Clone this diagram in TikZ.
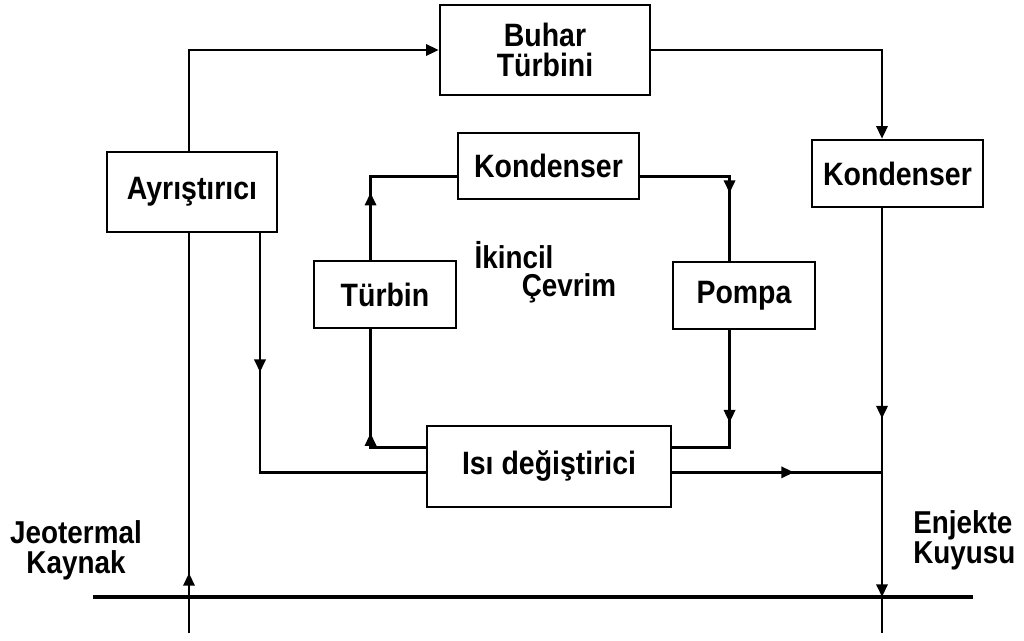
\documentclass[tikz,border=0pt]{standalone}
\usepackage{fontspec}
\setmainfont{Liberation Sans}[FakeStretch=0.88]
\usetikzlibrary{arrows.meta,calc,decorations.markings}

\begin{document}
\begin{tikzpicture}[x=0.025cm, y=-0.025cm,
  box/.style = {draw, line width=1.8pt, inner sep=0pt, align=center, font=\fontsize{23}{21.5}\selectfont\bfseries},
  lbl/.style = {inner sep=0pt, font=\fontsize{22.5}{21.5}\selectfont\bfseries},
  flow/.style = {draw, line width=1.8pt},
  ground/.style = {draw, line width=2.4pt},
  endtip/.style = {-{Triangle[width=8pt,length=9pt]}},
  midarrow/.style = {postaction={decorate, decoration={markings, mark=at position #1 with {\arrow{Triangle[width=8pt,length=9pt]}}}}}]
    \useasboundingbox (0,0) rectangle (1024,640);
    % boxes
    \node[box, minimum width=5.25cm, minimum height=2.25cm] (buhar) at (545,50) {Buhar\\Türbini};
    \node[box, minimum width=4.25cm, minimum height=2cm] (ayr) at (192,192) {Ayrıştırıcı};
    \node[box, minimum width=4.525cm, minimum height=1.65cm] (kondI) at (548.5,166) {Kondenser};
    \node[box, minimum width=4.275cm, minimum height=1.675cm] (kondR) at (897.5,173.5) {Kondenser};
    \node[box, minimum width=3.55cm, minimum height=1.675cm] (turbin) at (385,294.5) {Türbin};
    \node[box, minimum width=3.55cm, minimum height=1.675cm] (pompa) at (744,295.5) {Pompa};
    \node[box, minimum width=6.1cm, minimum height=2.025cm] (isi) at (549,466.5) {Isı değiştirici};
    % texts
    \node[lbl, align=center] (kaynak) at (76,550) {Jeotermal\\Kaynak};
    \node[lbl, align=left, anchor=west] (kuyu) at (913,540) {Enjekte\\Kuyusu};
    \node[lbl] (ikincil) at (514,255) {İkincil};
    \node[lbl] (cevrim) at (569,288) {Çevrim};
    % connection points
    \coordinate (src) at (189,633);
    \coordinate (inj) at (882,633);
    \coordinate (gl) at (93,597);
    \coordinate (gr) at (973,597);
    \coordinate (ayrR) at ($(ayr.south west)!0.894!(ayr.south east)$);
    \coordinate (hxin) at ($(isi.north west)!0.57!(isi.south west)$);
    \coordinate (hxout) at ($(isi.north east)!0.57!(isi.south east)$);
    \coordinate (wfin) at ($(isi.north east)!0.27!(isi.south east)$);
    \coordinate (wfout) at ($(isi.north west)!0.27!(isi.south west)$);
    \coordinate (tTop) at ($(turbin.north west)!0.4!(turbin.north east)$);
    \coordinate (tBot) at ($(turbin.south west)!0.4!(turbin.south east)$);
    \coordinate (pTop) at ($(pompa.north west)!0.4!(pompa.north east)$);
    \coordinate (pBot) at ($(pompa.south west)!0.4!(pompa.south east)$);
    \coordinate (kL) at ($(kondI.north west)!0.65!(kondI.south west)$);
    \coordinate (kR) at ($(kondI.north east)!0.65!(kondI.south east)$);
    % ground line
    \draw[ground] (gl) -- (gr);
    % geothermal loop
    \draw[flow, midarrow=0.15] (src) -- (src |- ayr.south);
    \draw[flow, endtip] (src |- ayr.north) |- (buhar.west);
    \draw[flow, endtip] (buhar.east) -| (inj |- kondR.north);
    \draw[flow, midarrow=0.495, midarrow=0.915] (inj |- kondR.south) -- (inj);
    \draw[flow, midarrow=0.343] (ayrR) |- (hxin);
    \draw[flow, midarrow=0.58] (hxout) -- (hxout -| inj);
    % secondary cycle
    \draw[flow, midarrow=0.395] (tTop) |- (kL);
    \draw[flow, midarrow=0.61] (kR) -| (pTop);
    \draw[flow, midarrow=0.53] (pBot) |- (wfin);
    \draw[flow, midarrow=0.40] (wfout) -| (tBot);
\end{tikzpicture}
\end{document}
